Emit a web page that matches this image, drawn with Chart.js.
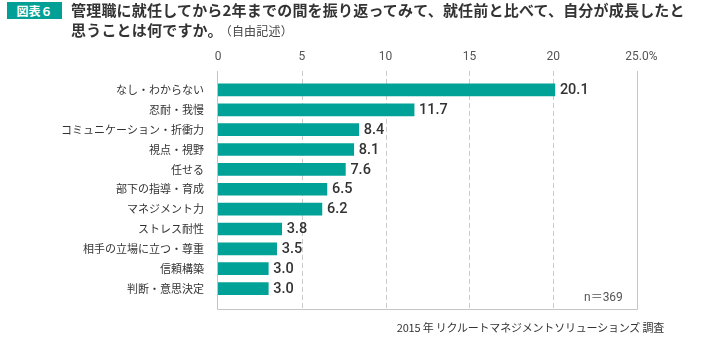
<!DOCTYPE html>
<html><head><meta charset="utf-8">
<script src="https://cdn.jsdelivr.net/npm/chart.js@4"></script>
<style>
html,body{margin:0;padding:0;background:#fff;}
#wrap{position:relative;width:728px;height:343px;overflow:hidden;font-family:"Noto Sans CJK JP","Noto Sans",sans-serif;}
#badge{position:absolute;left:7px;top:2px;width:55px;height:17px;background:#00a096;color:#fff;font-size:12px;font-weight:bold;line-height:17px;text-align:center;}
#title{position:absolute;left:71px;top:0px;font-size:15px;font-weight:bold;color:#333;line-height:20px;letter-spacing:0.2px;}
#title .sub{font-size:12px;font-weight:normal;color:#444;margin-left:3px;}
#n{position:absolute;left:584px;top:287px;font-size:12px;color:#555;font-family:Roboto,"Noto Sans CJK JP",sans-serif;}
#foot{position:absolute;right:64px;top:319px;font-size:11px;color:#333;letter-spacing:-0.2px;}
canvas{position:absolute;left:0;top:0;}
</style></head>
<body>
<div id="wrap">
<canvas id="c" width="728" height="343"></canvas>
<div id="badge">図表６</div>
<div id="title">管理職に就任してから2年までの間を振り返ってみて、就任前と比べて、自分が成長したと<br>思うことは何ですか。<span class="sub">（自由記述）</span></div>
<div id="n">n＝369</div>
<div id="foot">2015 年 リクルートマネジメントソリューションズ 調査</div>
</div>
<script>
const categories = ["なし・わからない","忍耐・我慢","コミュニケーション・折衝力","視点・視野","任せる","部下の指導・育成","マネジメント力","ストレス耐性","相手の立場に立つ・尊重","信頼構築","判断・意思決定"];
const values = [20.1, 11.7, 8.4, 8.1, 7.6, 6.5, 6.2, 3.8, 3.5, 3.0, 3.0];
const tickValues = [0, 5, 10, 15, 20, 25];
const tickLabels = ["0", "5", "10", "15", "20", "25.0"];

const framePlugin = {
  id: 'frame',
  beforeDatasetsDraw(chart) {
    const {ctx, chartArea, scales} = chart;
    const x = scales.x;
    const top = chartArea.top - 9, bottom = chartArea.bottom + 10.5;
    ctx.save();
    ctx.lineWidth = 1;
    ctx.strokeStyle = '#cccccc';
    ctx.setLineDash([5, 3]);
    tickValues.forEach(v => {
      if (v === 0 || v === 25) return;
      const px = Math.round(x.getPixelForValue(v)) + 0.5;
      ctx.beginPath(); ctx.moveTo(px, top); ctx.lineTo(px, bottom); ctx.stroke();
    });
    ctx.setLineDash([]);
    ctx.strokeStyle = '#c4c4c4';
    const l = Math.round(x.getPixelForValue(0)) - 0.5, r = Math.round(x.getPixelForValue(25)) + 0.5;
    const b = Math.round(bottom) + 0.5;
    ctx.beginPath();
    ctx.moveTo(l, top); ctx.lineTo(l, b); ctx.lineTo(r, b); ctx.lineTo(r, top);
    ctx.stroke();
    // tick labels
    ctx.fillStyle = '#555';
    ctx.font = '12px Roboto, "DejaVu Sans", sans-serif';
    ctx.textBaseline = 'middle';
    ctx.textAlign = 'center';
    tickValues.forEach((v, i) => {
      const px = x.getPixelForValue(v);
      ctx.fillText(tickLabels[i], px, 57);
      if (v === 25) {
        const w = ctx.measureText(tickLabels[i]).width;
        ctx.textAlign = 'left';
        ctx.fillText('%', px + w / 2, 57);
        ctx.textAlign = 'center';
      }
    });
    ctx.restore();
  },
  afterDatasetsDraw(chart) {
    const {ctx} = chart;
    const meta = chart.getDatasetMeta(0);
    ctx.save();
    ctx.fillStyle = '#333';
    ctx.font = '500 14.5px Roboto, sans-serif';
    ctx.textBaseline = 'middle';
    ctx.textAlign = 'left';
    meta.data.forEach((bar, i) => {
      ctx.fillText(values[i].toFixed(1), bar.x + 5, bar.y + 0.5);
    });
    ctx.restore();
  }
};

new Chart(document.getElementById('c'), {
  type: 'bar',
  data: {
    labels: categories,
    datasets: [{
      data: values,
      backgroundColor: '#00a298',
      borderWidth: 0,
      barThickness: 12
    }]
  },
  options: {
    indexAxis: 'y',
    responsive: false,
    animation: false,
    layout: { padding: { top: 80, bottom: 44.5, right: 91, left: 0 } },
    plugins: { legend: { display: false }, tooltip: { enabled: false } },
    scales: {
      x: {
        type: 'linear', min: 0, max: 25, display: false,
        ticks: { stepSize: 5 }
      },
      y: {
        grid: { display: false },
        border: { display: false },
        afterFit(scale) { scale.width = 218; },
        ticks: {
          padding: 6,
          color: '#333',
          font: { family: '"Noto Sans CJK JP", sans-serif', size: 11 }
        }
      }
    }
  },
  plugins: [framePlugin]
});
</script>
</body></html>
